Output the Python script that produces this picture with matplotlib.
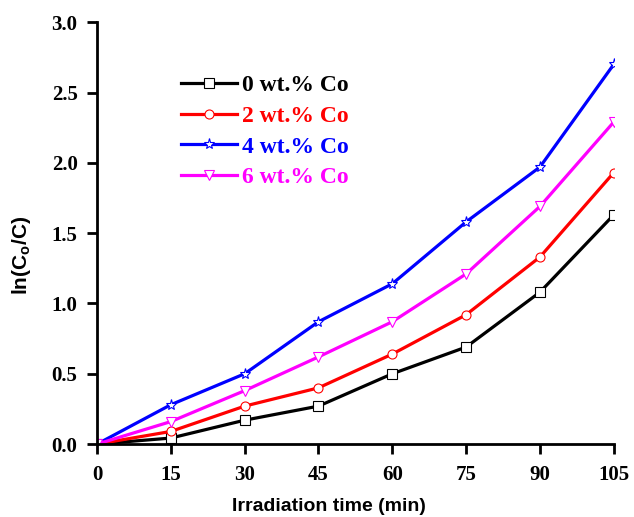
import matplotlib.pyplot as plt
import numpy as np

plt.rcParams['mathtext.fontset'] = 'custom'
plt.rcParams['mathtext.rm'] = 'Liberation Sans:bold'
plt.rcParams['mathtext.it'] = 'Liberation Sans:bold'

# Data
time = [0, 15, 30, 45, 60, 75, 90, 105]
co_0 = [0, 0.043, 0.17, 0.27, 0.50, 0.69, 1.08, 1.63]
co_2 = [0, 0.09, 0.27, 0.40, 0.64, 0.92, 1.33, 1.93]
co_4 = [0, 0.28, 0.50, 0.87, 1.14, 1.58, 1.97, 2.70]
co_6 = [0, 0.16, 0.38, 0.62, 0.87, 1.21, 1.69, 2.29]

labels = ["0 wt.% Co", "2 wt.% Co", "4 wt.% Co", "6 wt.% Co"]
colors = ["black", "red", "blue", "magenta"]
markers = ["s", "o", "*", "v"]

fig = plt.figure(figsize=(6.34, 5.17), dpi=100)
ax = fig.add_axes([0.153, 0.141, 0.815, 0.816])

for y, lab, c, m in zip([co_0, co_2, co_4, co_6], labels, colors, markers):
    ms = 8 if m == "*" else 6.5
    ax.plot(time, y, color=c, lw=2.3, marker=m, ms=ms, mfc="white",
            mec=c, mew=0.8, label=lab)

ax.set_xlim(0, 105)
ax.set_ylim(0, 3.0)
ax.set_xticks(time)
ax.set_yticks(np.arange(0, 3.01, 0.5))
ax.set_yticklabels(["%.1f" % v for v in np.arange(0, 3.01, 0.5)])

for s in ["top", "right"]:
    ax.spines[s].set_visible(False)
for s in ["left", "bottom"]:
    ax.spines[s].set_linewidth(2)
ax.tick_params(direction="out", length=7, width=2, pad=7)
ax.tick_params(axis="x", pad=8)
for t in ax.get_xticklabels() + ax.get_yticklabels():
    t.set_fontfamily("Liberation Serif")
    t.set_fontweight("bold")
    t.set_fontsize(15)

ax.set_xlabel("Irradiation time (min)", fontfamily="Liberation Sans",
              fontweight="bold", fontsize=14)
ax.set_ylabel(r"ln(C$_\mathrm{o}$/C)", fontfamily="Liberation Sans",
              fontweight="bold", fontsize=15)
ax.xaxis.set_label_coords(0.449, -0.128)
ax.yaxis.set_label_coords(-0.124, 0.448)

leg = ax.legend(loc="upper left", bbox_to_anchor=(0.121, 0.926), frameon=False,
                handlelength=2.4, labelspacing=0.39, handletextpad=0.2,
                prop={"family": "Liberation Serif", "weight": "bold", "size": 17})
for txt, c in zip(leg.get_texts(), colors):
    txt.set_color(c)

fig.savefig("out.png", dpi=100)
